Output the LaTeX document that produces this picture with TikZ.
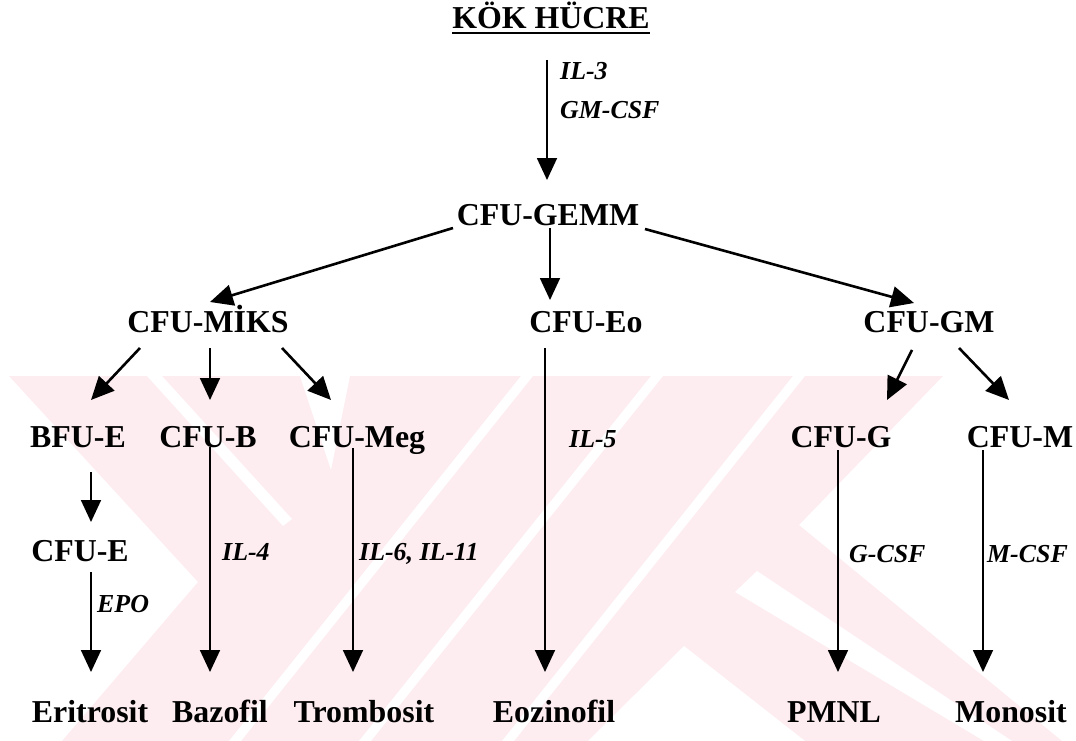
\documentclass[tikz,border=0pt]{standalone}
\usepackage{fontspec}
\setmainfont{Liberation Serif}
\usetikzlibrary{arrows.meta,calc}
\definecolor{wm}{RGB}{253,237,240}
\begin{document}
\begin{tikzpicture}[x=1bp,y=-1bp,
  lbl/.style={font=\fontsize{32}{32}\selectfont\bfseries, inner sep=0pt, anchor=base},
  fac/.style={font=\fontsize{26}{26}\selectfont\bfseries\itshape, inner sep=0pt, anchor=base west},
  arr/.style={line width=1.8bp, -{Triangle[width=20bp,length=22bp]}},
  darr/.style={line width=2.6bp, -{Triangle[width=21bp,length=23bp]}}]
\useasboundingbox (0,0) rectangle (1076,741);
% watermark
\fill[wm] (9,376) -- (943,376) -- (799,525) -- (1062,741) -- (62,741) -- (198,582) -- cycle;
\fill[white] (147,376) -- (162,376) -- (292,519) -- (283,526) -- cycle;
\fill[white] (300,376) -- (350,376) -- (331,470) -- cycle;
\fill[white] (521,376) -- (533,376) -- (241,741) -- (229,741) -- cycle;
\fill[white] (651,376) -- (663,376) -- (371,741) -- (359,741) -- cycle;
\fill[white] (793,376) -- (805,376) -- (514,741) -- (502,741) -- cycle;
\fill[white] (588,741) -- (684,646) -- (805,741) -- cycle;
\fill[white] (735,592) -- (757,571) -- (1012,741) -- (984,741) -- cycle;
% nodes
\node[lbl] (title) at (551,29) {KÖK HÜCRE};
\draw[line width=2.5bp] ($(title.base west)+(0,4)$) -- ($(title.base east)+(0,4)$);
\node[lbl] (gemm) at (548,225) {CFU-GEMM};
\node[lbl] (miks) at (208,332) {CFU-MİKS};
\node[lbl] (eo) at (586,332) {CFU-Eo};
\node[lbl] (gm) at (929,332) {CFU-GM};
\node[lbl] (bfue) at (78,447) {BFU-E};
\node[lbl] (cfub) at (208,447) {CFU-B};
\node[lbl] (meg) at (357,447) {CFU-Meg};
\node[lbl] (cfug) at (841,447) {CFU-G};
\node[lbl] (cfum) at (1020,447) {CFU-M};
\node[lbl] (cfue) at (80,561) {CFU-E};
\node[lbl] (eri) at (90,722) {Eritrosit};
\node[lbl] (baz) at (220,722) {Bazofil};
\node[lbl] (trom) at (364,722) {Trombosit};
\node[lbl] (eoz) at (554,722) {Eozinofil};
\node[lbl] (pmnl) at (834,722) {PMNL};
\node[lbl] (mono) at (1011,722) {Monosit};
% factor labels
\node[fac] (il3) at (560,80) {IL-3};
\node[fac] (gmcsf) at (560,118) {GM-CSF};
\node[fac] (epo) at (97,612) {EPO};
\node[fac] (il4) at (222,560) {IL-4};
\node[fac] (il611) at (359,560) {IL-6, IL-11};
\node[fac] (il5) at (569,447) {IL-5};
\node[fac] (gcsf) at (849,562) {G-CSF};
\node[fac] (mcsf) at (987,562) {M-CSF};
% connectors
\draw[arr] ($(title.base)+(-4,31)$) -- ($(gemm.base)+(-1,-45)$);
\draw[darr] ($(gemm.base)+(-95,3)$) -- ($(miks.base)+(2,-30)$);
\draw[arr] ($(gemm.base)+(2,3)$) -- ($(eo.base)+(-36,-32)$);
\draw[darr] ($(gemm.base)+(97,4)$) -- ($(gm.base)+(-15,-29)$);
\draw[darr] ($(miks.base)+(-68,16)$) -- ($(bfue.base)+(13,-47)$);
\draw[arr] ($(miks.base)+(2,16)$) -- ($(cfub.base)+(2,-47)$);
\draw[darr] ($(miks.base)+(74,16)$) -- ($(meg.base)+(-26,-47)$);
\draw[arr] ($(eo.base)+(-41,16)$) -- ($(eoz.base)+(-9,-50)$);
\draw[darr] ($(gm.base)+(-17,18)$) -- ($(cfug.base)+(46,-47)$);
\draw[darr] ($(gm.base)+(30,16)$) -- ($(cfum.base)+(-11,-47)$);
\draw[arr] ($(bfue.base)+(13,25)$) -- ($(cfue.base)+(11,-39)$);
\draw[arr] ($(cfue.base)+(11,11)$) -- ($(eri.base)+(1,-50)$);
\draw[arr] ($(cfub.base)+(2,0)$) -- ($(baz.base)+(-10,-50)$);
\draw[arr] ($(meg.base)+(-4,1)$) -- ($(trom.base)+(-11,-50)$);
\draw[arr] ($(cfug.base)+(-3,3)$) -- ($(pmnl.base)+(4,-50)$);
\draw[arr] ($(cfum.base)+(-37,3)$) -- ($(mono.base)+(-28,-50)$);
\end{tikzpicture}
\end{document}
